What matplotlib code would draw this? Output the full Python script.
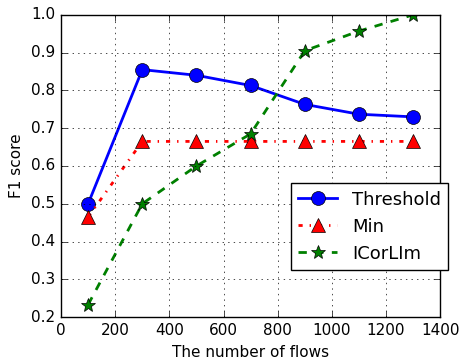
import matplotlib
matplotlib.use('Agg')
import matplotlib.pyplot as plt

flows = [100, 300, 500, 700, 900, 1100, 1300]
threshold = [0.5, 0.855, 0.84, 0.813, 0.763, 0.737, 0.73]
min_f1 = [0.465, 0.665, 0.665, 0.665, 0.665, 0.665, 0.665]
icorlim = [0.233, 0.5, 0.6, 0.685, 0.905, 0.957, 1.0]

plt.style.use('classic')
plt.rcParams['font.size'] = 11
fig = plt.figure(figsize=(4.59, 3.62), dpi=100)
ax = fig.add_axes([0.133, 0.124, 0.826, 0.835])

ax.plot(flows, threshold, 'b-o', lw=2, ms=10, label='Threshold')
ax.plot(flows, min_f1, 'r-.^', lw=2, ms=10, label='Min')
ax.plot(flows, icorlim, 'g--*', lw=2, ms=10, label='ICorLIm')

ax.set_xlim(0, 1400)
ax.set_ylim(0.2, 1.0)
ax.set_xlabel('The number of flows')
ax.set_ylabel('F1 score')
ax.grid(True)
ax.legend(loc='lower right', bbox_to_anchor=(1.021, 0.156), fontsize=13,
          numpoints=1, handlelength=2.2, borderaxespad=0)

fig.savefig('out.png', dpi=100)
